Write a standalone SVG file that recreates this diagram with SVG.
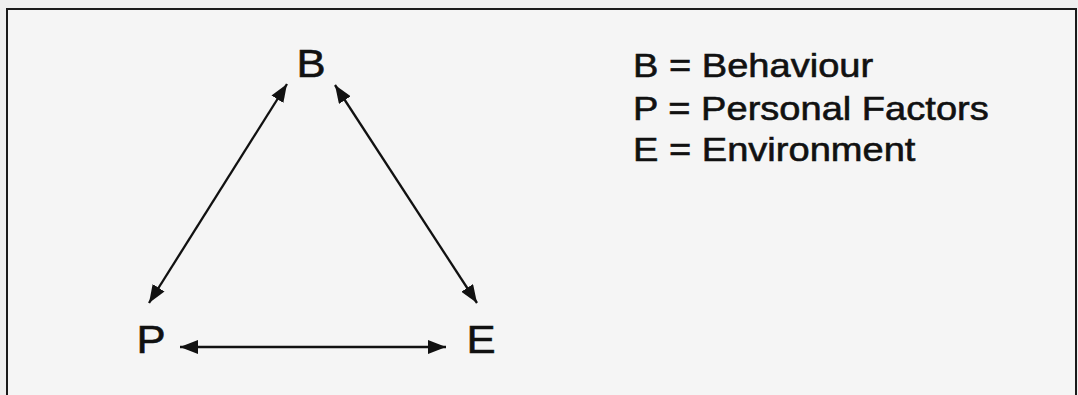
<svg xmlns="http://www.w3.org/2000/svg" width="1078" height="395" viewBox="0 0 1078 395">
<style>
.t{font-family:"Liberation Sans",Arial,sans-serif;fill:#111;stroke:#111;stroke-width:0.6}
.big{font-size:39px}
.leg{font-size:34px}
.c{stroke:#111;stroke-width:2.3;fill:none}
</style>
<defs>
<marker id="ah" viewBox="0 0 18 14" refX="18" refY="7" markerWidth="18" markerHeight="14" markerUnits="userSpaceOnUse" orient="auto-start-reverse">
<path d="M0,0 L18,7 L0,14 Z" fill="#111"/>
</marker>
</defs>
<rect x="0" y="0" width="1078" height="395" fill="#efefef"/>
<rect x="7" y="9" width="1069" height="400" fill="#f5f5f5" stroke="#1a1a1a" stroke-width="2"/>
<g id="connectors">
<line class="c" x1="149" y1="303" x2="287" y2="84" marker-start="url(#ah)" marker-end="url(#ah)"/>
<line class="c" x1="335" y1="85" x2="477" y2="303" marker-start="url(#ah)" marker-end="url(#ah)"/>
<line class="c" x1="180" y1="347" x2="446" y2="347" marker-start="url(#ah)" marker-end="url(#ah)"/>
</g>
<g transform="scale(1.12,1)">
<g id="node-B"><text class="t big" x="277.7" y="77" text-anchor="middle">B</text></g>
<g id="node-P"><text class="t big" x="134.8" y="353" text-anchor="middle">P</text></g>
<g id="node-E"><text class="t big" x="429.5" y="353" text-anchor="middle">E</text></g>
<g id="legend">
<text class="t leg" x="565.2" y="77">B = Behaviour</text>
<text class="t leg" x="565.2" y="120">P = Personal Factors</text>
<text class="t leg" x="565.2" y="161">E = Environment</text>
</g>
</g>
</svg>
